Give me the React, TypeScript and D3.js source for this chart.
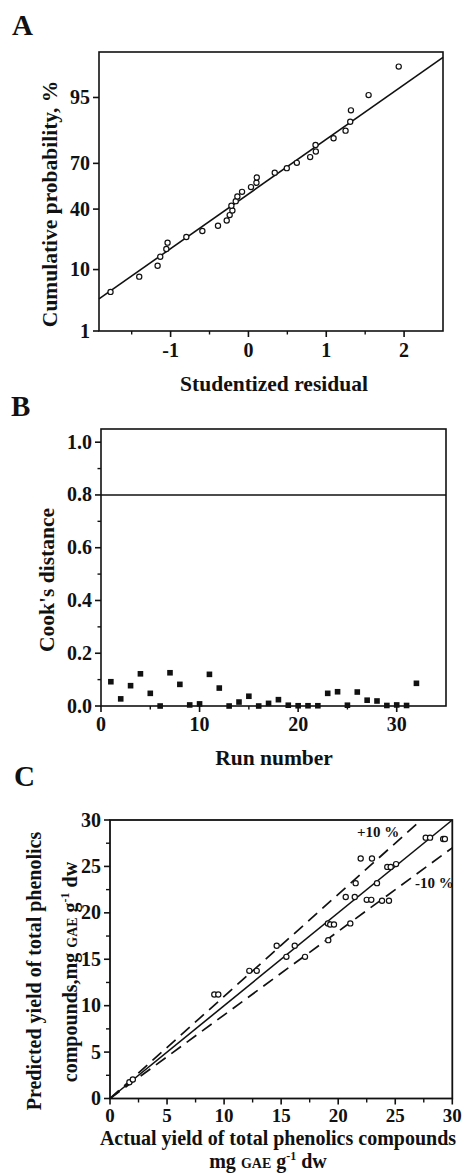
import React from "react";
import * as d3 from "d3";

// ---------- Panel A: normal probability plot of studentized residuals ----------
const residualsA = [-1.772, -1.403, -1.167, -1.133, -1.055, -1.039, -0.798, -0.592, -0.391, -0.279, -0.241, -0.206, -0.219, -0.163, -0.142, -0.082, 0.033, 0.103, 0.107, 0.338, 0.493, 0.622, 0.793, 0.866, 0.862, 1.094, 1.248, 1.308, 1.317, 1.544, 1.931];
const probabilitiesA = [4.83, 8.05, 11.2, 14.4, 17.6, 20.5, 23.3, 26.6, 29.6, 32.7, 36.1, 39.1, 42.2, 45.3, 48.4, 51.6, 54.8, 57.7, 61.2, 64.2, 67.1, 70.3, 73.6, 76.6, 79.9, 82.9, 86.0, 89.1, 92.3, 95.4, 98.5];
const fitResidA = [-1.92, 2.5];
const fitProbA = [3.75, 99.0];
const probTicksA = [1, 10, 40, 70, 95];
const residTicksA = [-1, 0, 1, 2];
const residMinorTicksA = [-1.5, -0.5, 0.5, 1.5];

// ---------- Panel B: Cook's distance ----------
const runsB = [1, 2, 3, 4, 5, 6, 7, 8, 9, 10, 11, 12, 13, 14, 15, 16, 17, 18, 19, 20, 21, 22, 23, 24, 25, 26, 27, 28, 29, 30, 31, 32];
const cooksB = [0.092, 0.027, 0.077, 0.122, 0.048, 0.0, 0.126, 0.082, 0.004, 0.008, 0.12, 0.068, 0.0, 0.015, 0.037, 0.0, 0.01, 0.024, 0.003, 0.001, 0.001, 0.001, 0.048, 0.054, 0.003, 0.053, 0.022, 0.019, 0.002, 0.004, 0.002, 0.086];
const cookThresholdB = 0.8;
const cookTicksB = [0, 0.2, 0.4, 0.6, 0.8, 1.0];
const cookMinorTicksB = [0.1, 0.3, 0.5, 0.7, 0.9];
const runTicksB = [0, 10, 20, 30];
const runMinorTicksB = [5, 15, 25];

// ---------- Panel C: predicted vs actual ----------
const actualC = [27.67, 28.05, 29.2, 29.35, 21.97, 22.96, 24.3, 24.6, 25.07, 21.53, 23.4, 20.66, 21.45, 22.5, 22.9, 23.84, 24.45, 19.1, 19.3, 19.63, 21.06, 19.13, 14.61, 16.19, 15.46, 17.09, 12.21, 12.86, 9.14, 9.49, 1.7, 2.0];
const predictedC = [28.1, 28.1, 27.95, 27.95, 25.85, 25.85, 24.95, 24.95, 25.25, 23.2, 23.2, 21.7, 21.7, 21.4, 21.4, 21.3, 21.3, 18.86, 18.75, 18.75, 18.86, 17.06, 16.45, 16.45, 15.26, 15.26, 13.75, 13.75, 11.2, 11.2, 1.75, 2.05];
const yieldTicksC = [0, 5, 10, 15, 20, 25, 30];
const yieldMinorTicksC = [2.5, 7.5, 12.5, 17.5, 22.5, 27.5];
const refFactorsC = [1.0, 1.1, 0.9];
const refLabelsC = ["+10 %", "-10 %"];

const FONT = "'Liberation Serif', 'Times New Roman', Times, serif";

function probit(p: number): number {
  const a = [-3.969683028665376e1, 2.209460984245205e2, -2.759285104469687e2, 1.38357751867269e2, -3.066479806614716e1, 2.506628277459239];
  const b = [-5.447609879822406e1, 1.615858368580409e2, -1.556989798598866e2, 6.680131188771972e1, -1.328068155288572e1];
  const c = [-7.784894002430293e-3, -3.223964580411365e-1, -2.400758277161838, -2.549732539343734, 4.374664141464968, 2.938163982698783];
  const d = [7.784695709041462e-3, 3.224671290700398e-1, 2.445134137142996, 3.754408661907416];
  const plow = 0.02425;
  const phigh = 1 - plow;
  if (p < plow) {
    const q = Math.sqrt(-2 * Math.log(p));
    return (((((c[0] * q + c[1]) * q + c[2]) * q + c[3]) * q + c[4]) * q + c[5]) / ((((d[0] * q + d[1]) * q + d[2]) * q + d[3]) * q + 1);
  }
  if (p <= phigh) {
    const q = p - 0.5;
    const r = q * q;
    return ((((((a[0] * r + a[1]) * r + a[2]) * r + a[3]) * r + a[4]) * r + a[5]) * q) / (((((b[0] * r + b[1]) * r + b[2]) * r + b[3]) * r + b[4]) * r + 1);
  }
  const q = Math.sqrt(-2 * Math.log(1 - p));
  return -(((((c[0] * q + c[1]) * q + c[2]) * q + c[3]) * q + c[4]) * q + c[5]) / ((((d[0] * q + d[1]) * q + d[2]) * q + d[3]) * q + 1);
}

const tickText = { fontFamily: FONT, fontWeight: 700, fontSize: 20, fill: "#111" } as const;
const titleText = { fontFamily: FONT, fontWeight: 700, fontSize: 21.5, fill: "#111" } as const;
const titleTextC = { fontFamily: FONT, fontWeight: 700, fontSize: 20, fill: "#111" } as const;
const letterText = { fontFamily: FONT, fontWeight: 700, fontSize: 29, fill: "#111" } as const;

function PanelA() {
  const x = d3.scaleLinear().domain([-1.92, 2.5]).range([99, 443]);
  const zScale = d3.scaleLinear().domain([probit(0.01), probit(0.9922)]).range([331, 52]);
  const y = (p: number) => zScale(probit(p / 100));
  const [x0, x1] = x.range();
  const [yb, yt] = zScale.range();
  const line = d3.line<number>().x((_, i) => x(fitResidA[i])).y((_, i) => y(fitProbA[i]));
  return (
    <g>
      <text x={12} y={35} {...letterText}>A</text>
      <rect x={x0} y={yt} width={x1 - x0} height={yb - yt} fill="none" stroke="#111" strokeWidth={1.6} />
      {probTicksA.map((t) => (
        <g key={t}>
          <line x1={x0 - 6} x2={x0} y1={y(t)} y2={y(t)} stroke="#111" strokeWidth={1.6} />
          <text x={x0 - 9} y={y(t) + 6.5} textAnchor="end" {...tickText}>{t}</text>
        </g>
      ))}
      {residTicksA.map((t) => (
        <g key={t}>
          <line x1={x(t)} x2={x(t)} y1={yb} y2={yb + 6} stroke="#111" strokeWidth={1.6} />
          <text x={x(t)} y={357} textAnchor="middle" {...tickText}>{t}</text>
        </g>
      ))}
      {residMinorTicksA.map((t) => (
        <line key={t} x1={x(t)} x2={x(t)} y1={yb} y2={yb + 3.5} stroke="#111" strokeWidth={1.4} />
      ))}
      <path d={line(fitResidA) || ""} fill="none" stroke="#111" strokeWidth={1.6} />
      {residualsA.map((r, i) => (
        <circle key={i} cx={x(r)} cy={y(probabilitiesA[i])} r={2.6} fill="#fff" stroke="#111" strokeWidth={1.2} />
      ))}
      <text transform={`translate(57,204) rotate(-90)`} textAnchor="middle" {...titleText}>Cumulative probability, %</text>
      <text x={274} y={391} textAnchor="middle" {...titleText}>Studentized residual</text>
    </g>
  );
}

function PanelB() {
  const x = d3.scaleLinear().domain([0, 35]).range([101, 446]);
  const y = d3.scaleLinear().domain([0, 1.05]).range([706, 429]);
  const [x0, x1] = x.range();
  const [yb, yt] = y.range();
  const s = 5.6;
  return (
    <g>
      <text x={11} y={416} {...letterText}>B</text>
      <rect x={x0} y={yt} width={x1 - x0} height={yb - yt} fill="none" stroke="#111" strokeWidth={1.6} />
      {cookTicksB.map((t) => (
        <g key={t}>
          <line x1={x0 - 6} x2={x0} y1={y(t)} y2={y(t)} stroke="#111" strokeWidth={1.6} />
          <text x={x0 - 9} y={y(t) + 6.5} textAnchor="end" {...tickText}>{t.toFixed(1)}</text>
        </g>
      ))}
      {cookMinorTicksB.map((t) => (
        <line key={t} x1={x0 - 3.5} x2={x0} y1={y(t)} y2={y(t)} stroke="#111" strokeWidth={1.4} />
      ))}
      {runTicksB.map((t) => (
        <g key={t}>
          <line x1={x(t)} x2={x(t)} y1={yb} y2={yb + 6} stroke="#111" strokeWidth={1.6} />
          <text x={x(t)} y={731} textAnchor="middle" {...tickText}>{t}</text>
        </g>
      ))}
      {runMinorTicksB.map((t) => (
        <line key={t} x1={x(t)} x2={x(t)} y1={yb} y2={yb + 3.5} stroke="#111" strokeWidth={1.4} />
      ))}
      <line x1={x0} x2={x1} y1={y(cookThresholdB)} y2={y(cookThresholdB)} stroke="#111" strokeWidth={1.6} />
      {runsB.map((r, i) => (
        <rect key={r} x={x(r) - s / 2} y={y(cooksB[i]) - s / 2} width={s} height={s} fill="#111" />
      ))}
      <text transform={`translate(54,580) rotate(-90)`} textAnchor="middle" {...titleText}>Cook's distance</text>
      <text x={274} y={765} textAnchor="middle" {...titleText}>Run number</text>
    </g>
  );
}

function PanelC() {
  const x = d3.scaleLinear().domain([0, 30]).range([110, 452.3]);
  const y = d3.scaleLinear().domain([0, 30]).range([1098.5, 820]);
  const [x0, x1] = x.range();
  const [yb, yt] = y.range();
  const refLine = (k: number) => {
    const xe = Math.min(30, 30 / k);
    return d3.line<number>().x((v) => x(v)).y((v) => y(v * k))([0, xe]) || "";
  };
  const xTick = { ...tickText, fontSize: 19 };
  return (
    <g>
      <text x={14} y={786} {...letterText}>C</text>
      <rect x={x0} y={yt} width={x1 - x0} height={yb - yt} fill="none" stroke="#111" strokeWidth={1.8} />
      {yieldTicksC.map((t) => (
        <g key={t}>
          <line x1={x0 - 6} x2={x0} y1={y(t)} y2={y(t)} stroke="#111" strokeWidth={1.6} />
          <line x1={x(t)} x2={x(t)} y1={yb} y2={yb + 6} stroke="#111" strokeWidth={1.6} />
          <text x={x0 - 9} y={y(t) + 6.5} textAnchor="end" {...tickText}>{t}</text>
          <text x={x(t)} y={1122} textAnchor="middle" {...xTick}>{t}</text>
        </g>
      ))}
      {yieldMinorTicksC.map((t) => (
        <g key={t}>
          <line x1={x0 - 4} x2={x0} y1={y(t)} y2={y(t)} stroke="#111" strokeWidth={1.4} />
          <line x1={x(t)} x2={x(t)} y1={yb} y2={yb + 4} stroke="#111" strokeWidth={1.4} />
        </g>
      ))}
      {refFactorsC.map((k, i) => (
        <path key={k} d={refLine(k)} fill="none" stroke="#111" strokeWidth={i === 0 ? 1.6 : 1.7} strokeDasharray={i === 0 ? undefined : "12,7"} />
      ))}
      {actualC.map((a, i) => (
        <circle key={i} cx={x(a)} cy={y(predictedC[i])} r={2.6} fill="#fff" stroke="#111" strokeWidth={1.2} />
      ))}
      <text x={357} y={837} fontSize={15} fontFamily={FONT} fontWeight={700} fill="#111">{refLabelsC[0]}</text>
      <text x={415} y={888} fontSize={15} fontFamily={FONT} fontWeight={700} fill="#111">{refLabelsC[1]}</text>
      <text transform={`translate(41,971) rotate(-90)`} textAnchor="middle" {...titleTextC}>Predicted yield of total phenolics</text>
      <text transform={`translate(77,972) rotate(-90)`} textAnchor="middle" {...titleTextC}>
        compounds,mg <tspan fontSize={14}>GAE</tspan> g<tspan fontSize={12} dy={-8}>-1</tspan><tspan dy={8}> dw</tspan>
      </text>
      <text x={278} y={1145} textAnchor="middle" {...titleTextC}>Actual yield of total phenolics compounds</text>
      <text x={268} y={1168} textAnchor="middle" {...titleTextC}>
        mg <tspan fontSize={14}>GAE</tspan> g<tspan fontSize={12} dy={-8}>-1</tspan><tspan dy={8}> dw</tspan>
      </text>
    </g>
  );
}

export default function App() {
  return (
    <svg width={469} height={1173} style={{ position: "absolute", left: 0, top: 0, display: "block", background: "#fff" }}>
      <rect x={0} y={0} width={469} height={1173} fill="#fff" />
      <PanelA />
      <PanelB />
      <PanelC />
    </svg>
  );
}
